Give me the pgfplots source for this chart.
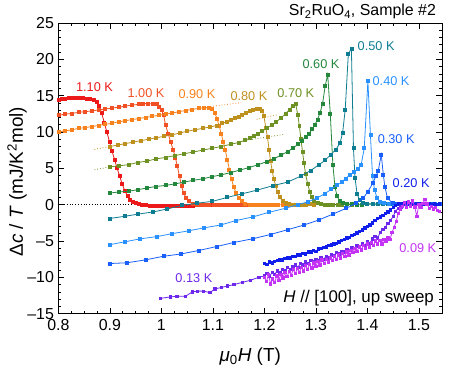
\documentclass[border=0pt]{standalone}
\usepackage{fontspec}
\setmainfont{Liberation Sans}
\usepackage{pgfplots}
\pgfplotsset{compat=1.18}
\usetikzlibrary{calc}

\definecolor{c110}{RGB}{235,25,25}
\definecolor{c100}{RGB}{240,80,35}
\definecolor{c090}{RGB}{247,130,30}
\definecolor{c080}{RGB}{190,145,30}
\definecolor{c070}{RGB}{110,145,35}
\definecolor{c060}{RGB}{35,135,60}
\definecolor{c050}{RGB}{15,125,145}
\definecolor{c040}{RGB}{40,145,255}
\definecolor{c030}{RGB}{25,95,250}
\definecolor{c020}{RGB}{15,30,235}
\definecolor{c013}{RGB}{110,40,235}
\definecolor{c009}{RGB}{195,50,245}

\begin{document}
\begin{tikzpicture}
\begin{axis}[
    scale only axis,
    width=384bp, height=291bp,
    xmin=0.8, xmax=1.545, ymin=-15, ymax=25,
    xtick={0.8,0.9,1.0,1.1,1.2,1.3,1.4,1.5},
    xticklabels={0.8,0.9,1,1.1,1.2,1.3,1.4,1.5},
    ytick={-15,-10,-5,0,5,10,15,20,25},
    yticklabels={--15,--10,--5,0,5,10,15,20,25},
    minor x tick num=3, minor y tick num=4,
    tick align=inside,
    major tick length=6bp, minor tick length=3bp,
    tick style={black, line width=0.6bp},
    axis line style={line width=0.9bp},
    tick label style={font=\fontsize{16}{18}\selectfont},
    xticklabel style={yshift=-2bp},
    yticklabel style={xshift=-1bp},
    xlabel={\textit{μ}\textsubscript{0}\textit{H} (T)},
    ylabel={Δ\textit{c} / \textit{T} (mJ/K\textsuperscript{2}mol)},
    label style={font=\fontsize{19}{21}\selectfont},
    xlabel style={at={(axis description cs:0.5,-0.148)}, anchor=center},
    ylabel style={at={(axis description cs:-0.108,0.454)}, anchor=center},
    clip mode=individual,
    every axis plot/.append style={line width=0.8bp, mark=square*, mark size=1.5bp},
]
\coordinate (ll) at (rel axis cs:0,0);
\coordinate (ur) at (rel axis cs:1,1);

% zero line and extrapolations
\addplot[black, dotted, line width=0.6bp, no marks] coordinates {(0.8,0)(1.545,0)};
\addplot[c090, dotted, no marks] coordinates {(1.09,13.45)(1.155,14.05)};
\addplot[c080, dotted, no marks] coordinates {(0.870,7.6)(0.900,8.0)};
\addplot[c080, dotted, no marks] coordinates {(1.185,11.75)(1.225,12.35)};
\addplot[c070, dotted, no marks] coordinates {(0.870,4.8)(0.900,5.2)};
\addplot[c070, dotted, no marks] coordinates {(1.16,8.8)(1.24,9.7)};

% 1.10 K
\addplot[c110] coordinates {
(0.800,14.4)(0.806,14.5)(0.813,14.6)(0.820,14.65)(0.827,14.7)(0.834,14.7)(0.841,14.7)
(0.848,14.65)(0.855,14.6)(0.862,14.55)(0.869,14.4)(0.874,14.2)(0.879,13.6)(0.884,12.6)
(0.889,11.3)(0.894,10.0)(0.899,8.7)(0.904,7.4)(0.909,6.2)(0.914,5.0)(0.919,3.9)(0.924,2.8)
(0.929,1.9)(0.934,1.2)(0.939,0.7)(0.944,0.4)(0.950,0.2)(0.956,0.05)(0.963,-0.05)(0.970,-0.1)
(0.977,-0.12)(0.984,-0.12)(0.991,-0.13)(0.998,-0.13)(1.005,-0.13)(1.012,-0.14)(1.019,-0.14)
(1.026,-0.14)(1.033,-0.14)(1.040,-0.13)(1.047,-0.13)(1.054,-0.12)(1.061,-0.12)(1.068,-0.1)
(1.075,-0.1)(1.082,-0.08)(1.089,-0.07)(1.096,-0.05)
};
% 1.00 K
\addplot[c100] coordinates {
(0.800,12.3)(0.813,12.45)(0.826,12.55)(0.839,12.7)(0.852,12.8)(0.865,12.9)(0.878,13.05)
(0.891,13.15)(0.904,13.3)(0.917,13.4)(0.930,13.55)(0.943,13.7)(0.956,13.8)(0.965,13.9)
(0.974,13.9)(0.983,13.85)(0.991,13.8)(0.996,13.5)(1.000,13.0)(1.004,12.4)(1.008,11.0)
(1.013,9.8)(1.018,8.6)(1.023,7.5)(1.027,6.5)(1.031,5.3)(1.035,3.9)(1.039,2.6)(1.043,1.6)
(1.048,0.9)(1.054,0.45)(1.061,0.15)(1.069,0.0)(1.077,-0.1)(1.085,-0.1)(1.093,-0.1)(1.101,-0.1)
(1.109,-0.08)(1.117,-0.07)(1.125,-0.06)(1.133,-0.05)(1.141,-0.04)(1.149,-0.03)(1.157,-0.02)
(1.165,0.0)(1.173,0.0)(1.181,0.0)(1.189,0.0)
};
% 0.90 K
\addplot[c090] coordinates {
(0.800,10.0)(0.813,10.15)(0.826,10.3)(0.839,10.5)(0.852,10.6)(0.865,10.75)(0.878,10.9)
(0.891,11.05)(0.904,11.2)(0.917,11.4)(0.930,11.55)(0.943,11.7)(0.956,11.85)(0.969,12.0)
(0.982,12.15)(0.995,12.3)(1.008,12.45)(1.021,12.6)(1.034,12.8)(1.047,12.95)(1.060,13.1)
(1.072,13.25)(1.083,13.35)(1.092,13.35)(1.099,13.2)(1.104,12.6)(1.108,11.8)(1.112,10.9)
(1.116,9.8)(1.120,8.7)(1.124,7.5)(1.128,6.2)(1.132,4.8)(1.136,3.6)(1.140,2.5)(1.145,1.6)
(1.150,0.9)(1.156,0.45)(1.163,0.15)(1.171,0.0)(1.179,-0.05)(1.187,-0.05)(1.195,-0.05)
(1.203,-0.04)(1.211,-0.03)(1.219,-0.02)(1.227,0.0)(1.235,0.0)(1.243,0.0)(1.251,0.0)(1.259,0.0)
};
% 0.80 K
\addplot[c080] coordinates {
(0.900,8.0)(0.915,8.2)(0.930,8.4)(0.945,8.6)(0.960,8.8)(0.975,9.0)(0.990,9.2)(1.005,9.4)
(1.020,9.6)(1.035,9.85)(1.050,10.1)(1.065,10.3)(1.080,10.5)(1.095,10.7)(1.108,10.9)
(1.118,11.2)(1.127,11.4)(1.135,11.6)(1.143,11.9)(1.150,12.1)(1.157,12.3)(1.164,12.6)
(1.171,12.9)(1.178,13.1)(1.185,13.2)(1.191,13.2)(1.196,12.9)(1.199,12.2)(1.203,10.5)
(1.206,9.3)(1.209,7.6)(1.212,6.0)(1.215,4.7)(1.218,3.6)(1.222,2.6)(1.226,1.7)(1.230,1.0)
(1.235,0.5)(1.241,0.2)(1.248,0.05)(1.256,0.0)(1.264,-0.05)(1.272,0.0)(1.280,0.0)(1.288,0.05)
(1.296,0.0)
};
% 0.70 K
\addplot[c070] coordinates {
(0.900,5.2)(0.918,5.35)(0.936,5.5)(0.954,5.8)(0.972,6.0)(0.990,6.3)(1.008,6.5)(1.026,6.75)
(1.044,7.0)(1.062,7.25)(1.080,7.5)(1.098,7.75)(1.116,8.0)(1.134,8.3)(1.150,8.55)(1.162,8.85)
(1.171,9.15)(1.179,9.4)(1.187,9.7)(1.196,10.1)(1.205,10.55)(1.214,10.95)(1.223,11.4)
(1.232,11.9)(1.241,12.5)(1.249,13.1)(1.256,13.6)(1.261,13.8)(1.265,12.3)(1.268,10.8)
(1.271,9.0)(1.274,7.3)(1.277,5.7)(1.280,4.2)(1.284,2.9)(1.288,1.8)(1.292,1.0)(1.297,0.5)
(1.303,0.2)(1.310,0.05)(1.318,0.0)(1.326,-0.05)(1.334,0.0)(1.342,0.0)(1.350,0.0)(1.360,0.05)
(1.370,0.0)
};
% 0.60 K
\addplot[c060] coordinates {
(0.900,1.6)(0.918,1.75)(0.936,1.85)(0.954,2.05)(0.972,2.3)(0.990,2.5)(1.008,2.65)(1.026,2.85)
(1.044,3.1)(1.062,3.35)(1.080,3.55)(1.098,3.85)(1.116,4.1)(1.134,4.4)(1.152,4.75)(1.170,5.1)
(1.188,5.5)(1.204,5.9)(1.218,6.3)(1.232,6.8)(1.245,7.3)(1.256,7.8)(1.265,8.3)(1.273,8.8)
(1.280,9.3)(1.287,9.8)(1.293,10.4)(1.298,11.0)(1.303,11.7)(1.308,12.6)(1.313,13.9)
(1.318,16.3)(1.323,17.9)(1.328,12.5)(1.333,5.5)(1.337,2.5)(1.341,1.2)(1.346,0.5)(1.352,0.2)
(1.360,0.1)(1.370,0.05)(1.380,0.0)(1.390,0.0)(1.400,0.05)(1.410,0.05)(1.420,0.05)(1.430,0.1)
(1.440,0.1)(1.450,0.1)
};
% 0.50 K
\addplot[c050] coordinates {
(0.900,-1.9)(0.929,-1.6)(0.955,-1.3)(0.984,-1.0)(1.011,-0.6)(1.040,-0.1)(1.069,0.2)(1.099,0.45)
(1.128,1.0)(1.157,1.5)(1.186,2.0)(1.216,2.6)(1.245,3.1)(1.270,3.9)(1.290,4.7)(1.306,5.5)
(1.318,6.1)(1.329,6.9)(1.339,7.6)(1.347,8.5)(1.352,9.9)(1.357,13.1)(1.363,20.7)(1.369,21.5)
(1.373,7.8)(1.376,3.7)(1.380,1.5)(1.385,0.6)(1.392,0.3)(1.400,0.15)(1.410,0.1)(1.420,0.1)
(1.430,0.1)(1.440,0.15)(1.450,0.15)(1.460,0.15)(1.470,0.15)(1.480,0.15)(1.490,0.1)(1.500,0.1)
(1.510,0.1)(1.520,0.1)(1.530,0.1)(1.540,0.1)
};
% 0.40 K
\addplot[c040] coordinates {
(0.900,-5.5)(0.930,-5.1)(0.959,-4.7)(0.991,-4.4)(1.020,-4.0)(1.053,-3.6)(1.082,-3.2)
(1.115,-2.8)(1.144,-2.2)(1.177,-1.7)(1.209,-1.05)(1.241,-0.5)(1.265,0.0)(1.285,0.4)
(1.302,0.9)(1.317,1.5)(1.330,2.1)(1.341,2.65)(1.350,3.1)(1.358,3.6)(1.366,4.1)(1.374,4.5)
(1.381,4.9)(1.388,5.5)(1.394,7.8)(1.401,17.0)(1.406,9.6)(1.410,3.9)(1.414,2.0)(1.419,0.9)
(1.425,0.4)(1.433,0.2)(1.442,0.15)(1.452,0.15)(1.462,0.15)(1.472,0.1)(1.482,0.15)(1.492,0.1)
(1.502,0.1)(1.512,0.1)(1.522,0.1)(1.532,0.1)(1.540,0.1)
};
% 0.30 K
\addplot[c030] coordinates {
(0.900,-8.1)(0.933,-8.0)(0.969,-7.6)(1.004,-7.1)(1.037,-6.8)(1.073,-6.3)(1.108,-5.75)
(1.141,-5.2)(1.177,-4.7)(1.212,-4.1)(1.245,-3.45)(1.277,-2.8)(1.306,-2.1)(1.333,-1.3)
(1.359,-0.5)(1.378,0.2)(1.392,0.9)(1.401,1.8)(1.411,3.0)(1.417,4.0)(1.421,4.6)(1.427,6.9)
(1.431,4.1)(1.434,2.5)(1.439,0.9)(1.449,0.2)(1.458,0.15)(1.468,0.15)(1.478,0.1)(1.488,0.1)
(1.498,0.1)(1.508,0.05)(1.518,0.05)(1.528,0.05)(1.540,0.05)
};
% 0.20 K
\addplot[c020, mark size=1.2bp] coordinates {
(1.200,-8.1)(1.205,-8.2)(1.210,-7.9)(1.215,-8.0)(1.220,-7.8)(1.225,-7.7)(1.230,-7.6)
(1.235,-7.6)(1.240,-7.4)(1.245,-7.3)(1.250,-7.3)(1.255,-7.1)(1.260,-7.1)(1.265,-6.9)
(1.270,-6.9)(1.275,-6.7)(1.280,-6.75)(1.285,-6.5)(1.290,-6.5)(1.295,-6.3)(1.300,-6.4)
(1.305,-6.1)(1.310,-6.0)(1.315,-5.9)(1.320,-5.8)(1.325,-5.6)(1.330,-5.55)(1.335,-5.4)
(1.340,-5.3)(1.345,-5.1)(1.350,-4.9)(1.355,-4.8)(1.360,-4.6)(1.365,-4.5)(1.370,-4.2)
(1.375,-4.1)(1.380,-3.9)(1.385,-3.7)(1.390,-3.5)(1.395,-3.2)(1.400,-3.0)(1.405,-2.8)
(1.410,-2.5)(1.415,-2.2)(1.420,-1.9)(1.425,-1.7)(1.430,-1.5)(1.435,-1.2)(1.440,-1.0)
(1.445,-0.7)(1.450,-0.4)(1.455,-0.1)(1.460,0.1)(1.465,0.2)(1.470,0.1)(1.475,0.25)(1.480,0.1)
(1.485,0.2)(1.490,0.0)(1.495,0.15)(1.500,0.1)(1.505,0.2)(1.510,0.0)(1.515,0.1)(1.520,0.2)
(1.525,0.05)(1.530,0.1)(1.535,0.0)(1.540,0.1)
};
% 0.13 K
\addplot[c013, mark size=1.2bp] coordinates {
(0.998,-12.9)(1.017,-12.7)(1.030,-12.6)(1.047,-12.6)(1.060,-12.0)(1.070,-11.9)(1.082,-11.9)
(1.094,-12.1)(1.104,-11.6)(1.116,-11.4)(1.128,-11.2)(1.141,-11.0)(1.157,-10.7)(1.173,-10.4)
(1.189,-10.0)(1.200,-9.8)(1.205,-9.5)(1.210,-9.9)(1.215,-9.3)(1.220,-9.6)(1.225,-9.1)
(1.230,-9.4)(1.235,-8.9)(1.240,-9.1)(1.245,-8.6)(1.250,-8.9)(1.255,-8.5)(1.260,-8.3)
(1.265,-8.6)(1.270,-8.1)(1.275,-8.3)(1.280,-7.9)(1.285,-8.1)(1.290,-7.7)(1.295,-7.9)
(1.300,-7.5)(1.305,-7.7)(1.310,-7.3)(1.315,-7.5)(1.320,-7.1)(1.325,-7.3)(1.330,-6.9)
(1.335,-7.0)(1.340,-6.6)(1.345,-6.8)(1.350,-6.4)(1.355,-6.5)(1.360,-6.2)(1.365,-6.3)
(1.370,-5.9)(1.375,-6.0)(1.380,-5.7)(1.385,-5.8)(1.390,-5.4)(1.395,-5.6)(1.400,-5.1)
(1.405,-5.3)(1.410,-4.7)(1.415,-4.4)(1.420,-4.6)(1.425,-3.8)(1.430,-3.4)(1.435,-3.1)
(1.440,-2.6)(1.445,-2.2)(1.450,-1.6)(1.455,-0.9)(1.460,-0.5)(1.465,-0.3)
};
% 0.09 K
\addplot[c009, mark size=1.2bp] coordinates {
(1.200,-10.0)(1.204,-10.6)(1.208,-9.6)(1.212,-10.9)(1.216,-10.2)(1.220,-10.7)(1.224,-9.8)
(1.228,-10.4)(1.232,-9.6)(1.236,-10.1)(1.240,-9.3)(1.244,-9.9)(1.248,-9.2)(1.252,-9.7)
(1.256,-8.9)(1.260,-9.5)(1.264,-8.8)(1.268,-9.3)(1.272,-8.6)(1.276,-9.1)(1.280,-8.4)
(1.284,-8.9)(1.288,-8.2)(1.292,-8.7)(1.296,-8.0)(1.300,-8.5)(1.304,-7.8)(1.308,-8.3)
(1.312,-7.6)(1.316,-8.1)(1.320,-7.5)(1.324,-7.9)(1.328,-7.3)(1.332,-7.7)(1.336,-7.1)
(1.340,-7.5)(1.344,-6.9)(1.348,-7.3)(1.352,-6.7)(1.356,-7.1)(1.360,-6.5)(1.364,-6.9)
(1.368,-6.3)(1.372,-6.6)(1.376,-6.0)(1.380,-6.4)(1.384,-5.8)(1.388,-6.2)(1.392,-5.6)
(1.396,-6.0)(1.400,-5.4)(1.404,-5.8)(1.408,-5.2)(1.412,-5.6)(1.416,-5.0)(1.420,-5.4)
(1.424,-4.9)(1.428,-5.4)(1.432,-4.8)(1.436,-5.0)(1.440,-4.6)(1.444,-4.8)(1.448,-3.8)
(1.452,-3.1)(1.456,-2.3)(1.460,-1.2)(1.464,-0.6)(1.468,-0.2)(1.472,0.3)(1.476,-0.4)
(1.480,0.4)(1.484,-0.2)(1.488,0.5)(1.492,-0.3)(1.496,-1.6)(1.500,0.0)(1.504,-0.4)
(1.508,0.2)(1.512,0.7)(1.516,0.1)(1.520,-0.5)(1.524,-0.2)(1.528,-0.6)(1.532,-0.4)
(1.536,-0.8)(1.540,-0.9)
};

% labels
\begin{scope}[font=\fontsize{12.8}{14}\selectfont]
\node[text=c110] at (axis cs:0.870,16.2) {1.10 K};
\node[text=c100] at (axis cs:0.970,15.4) {1.00 K};
\node[text=c090] at (axis cs:1.069,15.2) {0.90 K};
\node[text=c080] at (axis cs:1.170,15.0) {0.80 K};
\node[text=c070] at (axis cs:1.261,15.4) {0.70 K};
\node[text=c060] at (axis cs:1.310,19.4) {0.60 K};
\node[text=c050] at (axis cs:1.417,21.8) {0.50 K};
\node[text=c040] at (axis cs:1.446,17.0) {0.40 K};
\node[text=c030] at (axis cs:1.456,9.06) {0.30 K};
\node[text=c020] at (axis cs:1.485,3.0) {0.20 K};
\node[text=c009] at (axis cs:1.498,-6.0) {0.09 K};
\node[text=c013] at (axis cs:1.063,-10.1) {0.13 K};
\end{scope}
\node[anchor=east, font=\fontsize{17}{19}\selectfont] at (axis cs:1.536,-12.8) {\textit{H} // [100], up sweep};
\node[anchor=east, font=\fontsize{16}{18}\selectfont] at (axis cs:1.540,26.55) {Sr\textsubscript{2}RuO\textsubscript{4}, Sample \#2};
\end{axis}
\pgfresetboundingbox
\path[use as bounding box] ($(ll)+(-58.5bp,-57bp)$) rectangle ($(ur)+(21bp,23bp)$);
\end{tikzpicture}
\end{document}
